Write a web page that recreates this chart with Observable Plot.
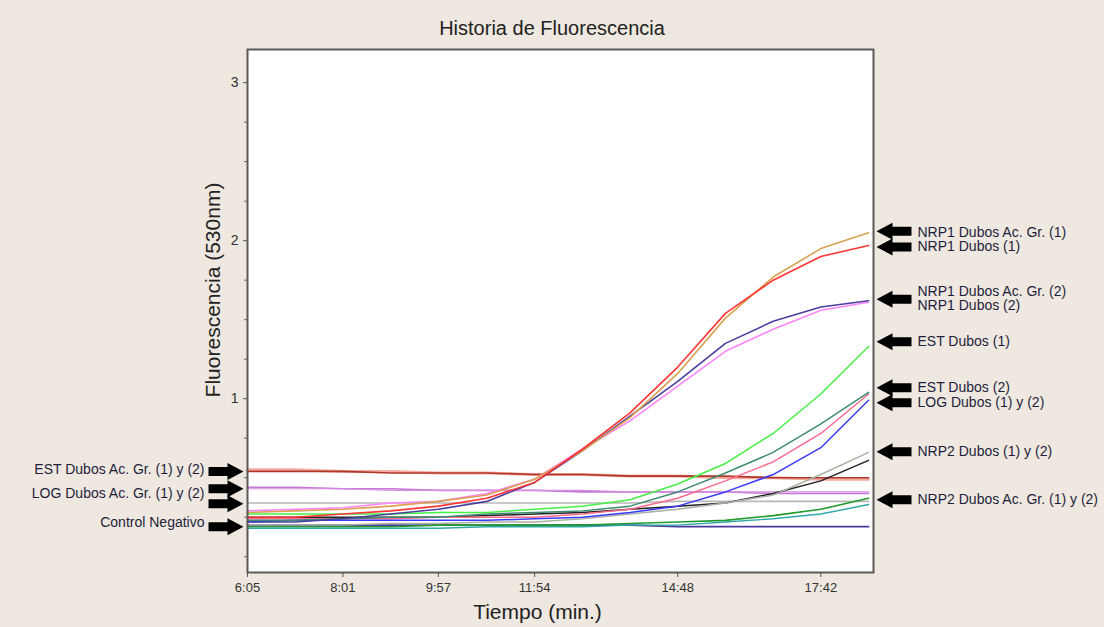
<!DOCTYPE html>
<html><head><meta charset="utf-8">
<script src="https://cdn.jsdelivr.net/npm/d3@7"></script>
<script src="https://cdn.jsdelivr.net/npm/@observablehq/plot@0.6"></script>
<style>
body{margin:0;background:#EEE8E0;}
#wrap{position:relative;width:1104px;height:627px;background:#EEE8E0;font-family:"Liberation Sans",Arial,sans-serif;overflow:hidden;}
#chart{position:absolute;left:0;top:0;}
#title{position:absolute;left:0;top:17px;width:1104px;text-align:center;font-size:20px;line-height:22px;color:#222;}
</style></head><body>
<div id="wrap"><div id="chart"></div><div id="title">Historia de Fluorescencia</div></div>
<script>
// cycle times in seconds (x)
const times = [365, 423, 481, 539, 597, 656, 714, 772, 830, 888, 946, 1004, 1062, 1120];
const xTickValues = [365, 481, 597, 714, 888, 1062];
const xTickLabels = ["6:05", "8:01", "9:57", "11:54", "14:48", "17:42"];
const yMajorTicks = [1, 2, 3];
const yMinorTicks = [0, 0.25, 0.5, 0.75, 1.25, 1.5, 1.75, 2.25, 2.5, 2.75];

// series values (fluorescence 530nm)
const estAcGr1 = [0.55,0.55,0.54,0.54,0.53,0.53,0.52,0.52,0.51,0.51,0.50,0.50,0.49,0.49];
const estAcGr2 = [0.54,0.54,0.54,0.53,0.53,0.53,0.52,0.52,0.51,0.51,0.51,0.50,0.50,0.50];
const logAcGr1 = [0.44,0.44,0.43,0.43,0.42,0.42,0.42,0.41,0.41,0.41,0.41,0.40,0.40,0.40];
const logAcGr2 = [0.43,0.43,0.43,0.42,0.42,0.42,0.42,0.42,0.41,0.41,0.41,0.41,0.41,0.41];
const grayRef  = [0.34,0.34,0.34,0.34,0.34,0.34,0.34,0.34,0.34,0.35,0.35,0.35,0.35,0.35];
const control  = [0.20,0.20,0.20,0.20,0.20,0.20,0.20,0.20,0.20,0.19,0.19,0.19,0.19,0.19];
const nrp2AcGr1 = [0.19,0.19,0.19,0.19,0.20,0.20,0.20,0.20,0.21,0.22,0.23,0.26,0.30,0.37];
const nrp2AcGr2 = [0.18,0.18,0.18,0.18,0.18,0.19,0.19,0.19,0.20,0.20,0.22,0.24,0.27,0.33];
const nrp2Dubos1 = [0.25,0.25,0.25,0.25,0.25,0.26,0.27,0.28,0.30,0.32,0.34,0.40,0.48,0.61];
const nrp2Dubos2 = [0.20,0.20,0.20,0.21,0.21,0.22,0.22,0.24,0.27,0.30,0.34,0.39,0.52,0.66];
const logDubos1 = [0.24,0.24,0.24,0.24,0.25,0.25,0.25,0.27,0.30,0.37,0.48,0.60,0.78,1.03];
const logDubos2 = [0.22,0.23,0.23,0.23,0.23,0.23,0.24,0.25,0.28,0.32,0.41,0.52,0.69,0.99];
const estDubos2 = [0.23,0.23,0.24,0.25,0.25,0.27,0.28,0.29,0.32,0.41,0.53,0.66,0.84,1.04];
const estDubos1 = [0.27,0.27,0.27,0.27,0.28,0.28,0.30,0.32,0.36,0.46,0.59,0.78,1.03,1.33];
const nrp1Dubos2 = [0.29,0.30,0.31,0.34,0.35,0.40,0.49,0.68,0.86,1.08,1.30,1.44,1.56,1.61];
const nrp1AcGr2 = [0.22,0.22,0.24,0.27,0.30,0.35,0.47,0.67,0.89,1.11,1.35,1.49,1.58,1.62];
const nrp1AcGr1 = [0.28,0.29,0.30,0.32,0.35,0.39,0.49,0.67,0.88,1.16,1.51,1.77,1.95,2.05];
const nrp1Dubos1 = [0.25,0.25,0.27,0.29,0.32,0.37,0.47,0.68,0.91,1.20,1.54,1.75,1.90,1.97];

const seriesList = [
  {name: "EST Dubos Ac. Gr. (1)", values: estAcGr1, color: "#F4ABA2", width: 3},
  {name: "EST Dubos Ac. Gr. (2)", values: estAcGr2, color: "#B0382A", width: 1.6},
  {name: "LOG Dubos Ac. Gr. (1)", values: logAcGr1, color: "#C47AD4", width: 1.6},
  {name: "LOG Dubos Ac. Gr. (2)", values: logAcGr2, color: "#D58EE0", width: 1.2},
  {name: "Referencia", values: grayRef, color: "#B8B8B8", width: 1.6},
  {name: "Control Negativo", values: control, color: "#4A3AA0", width: 1.8},
  {name: "NRP2 Dubos Ac. Gr. (1)", values: nrp2AcGr1, color: "#229A2E", width: 1.6},
  {name: "NRP2 Dubos Ac. Gr. (2)", values: nrp2AcGr2, color: "#2FA8A8", width: 1.4},
  {name: "NRP2 Dubos (1)", values: nrp2Dubos1, color: "#222222", width: 1.5},
  {name: "NRP2 Dubos (2)", values: nrp2Dubos2, color: "#A9B2A2", width: 1.5},
  {name: "LOG Dubos (1)", values: logDubos1, color: "#FF6A8C", width: 1.5},
  {name: "LOG Dubos (2)", values: logDubos2, color: "#3A3AFF", width: 1.5},
  {name: "EST Dubos (2)", values: estDubos2, color: "#3F8A72", width: 1.5},
  {name: "EST Dubos (1)", values: estDubos1, color: "#44F044", width: 1.5},
  {name: "NRP1 Dubos (2)", values: nrp1Dubos2, color: "#FF84FF", width: 1.6},
  {name: "NRP1 Dubos Ac. Gr. (2)", values: nrp1AcGr2, color: "#4B3F9E", width: 1.6},
  {name: "NRP1 Dubos Ac. Gr. (1)", values: nrp1AcGr1, color: "#D9A052", width: 1.6},
  {name: "NRP1 Dubos (1)", values: nrp1Dubos1, color: "#FF3434", width: 1.6}
];

// annotations
const rightLabels = ["NRP1 Dubos Ac. Gr. (1)", "NRP1 Dubos (1)", "NRP1 Dubos Ac. Gr. (2)", "NRP1 Dubos (2)", "EST Dubos (1)", "EST Dubos (2)", "LOG Dubos (1) y (2)", "NRP2 Dubos (1) y (2)", "NRP2 Dubos Ac. Gr. (1) y (2)"];
const rightLabelY = [2.05, 1.96, 1.68, 1.59, 1.36, 1.07, 0.975, 0.665, 0.36];
const rightArrowY = [2.06, 1.96, 1.63, 1.36, 1.07, 0.975, 0.665, 0.36];
const leftLabels = ["EST Dubos Ac. Gr. (1) y (2)", "LOG Dubos Ac. Gr. (1) y (2)", "Control Negativo"];
const leftLabelY = [0.55, 0.40, 0.215];
const leftArrowY = [0.54, 0.43, 0.335, 0.19];

const blockArrow = {
  draw(context, l) {
    const head = 16, shaft = 4.5, wing = 8.5;
    context.moveTo(-shaft, 0);
    context.lineTo(-shaft, -(l - head));
    context.lineTo(-wing, -(l - head));
    context.lineTo(0, -l);
    context.lineTo(wing, -(l - head));
    context.lineTo(shaft, -(l - head));
    context.lineTo(shaft, 0);
    context.closePath();
  }
};

const lineMarks = seriesList.map(s =>
  Plot.line(s.values.map((v, i) => ({t: times[i], v})), {x: "t", y: "v", stroke: s.color, strokeWidth: s.width, curve: "linear"})
);

const chart = Plot.plot({
  width: 1104, height: 627,
  marginLeft: 247, marginRight: 231, marginTop: 49, marginBottom: 55,
  style: {background: "transparent", fontFamily: "'Liberation Sans', Arial, sans-serif", color: "#333"},
  x: {domain: [365, 1126], label: null},
  y: {domain: [-0.1, 3.21], label: null},
  marks: [
    Plot.frame({fill: "white", stroke: "none"}),
    ...lineMarks,
    Plot.frame({stroke: "#5a5a5a", strokeWidth: 2}),
    Plot.axisY({ticks: yMinorTicks, tickSize: 3, tickFormat: () => "", label: null, stroke: "#666"}),
    Plot.axisY({ticks: yMajorTicks, tickSize: 4, tickFormat: () => "", label: null, stroke: "#555"}),
    Plot.axisX({ticks: xTickValues, tickSize: 5, tickFormat: () => "", label: null, stroke: "#555"}),
    Plot.text(yMajorTicks, {y: d => d, text: d => String(d), frameAnchor: "left", dx: -9, textAnchor: "end", lineAnchor: "middle", fontSize: 14, fill: "#333"}),
    Plot.text(xTickValues, {x: d => d, text: (d, i) => xTickLabels[i], frameAnchor: "bottom", dy: 15, textAnchor: "middle", lineAnchor: "middle", fontSize: 13, fill: "#333"}),
    Plot.text(["Fluorescencia (530nm)"], {frameAnchor: "left", dx: -34, dy: -21, rotate: -90, textAnchor: "middle", lineAnchor: "middle", fontSize: 21, fill: "#222"}),
    Plot.text(["Tiempo (min.)"], {frameAnchor: "bottom", dx: -23, dy: 40, textAnchor: "middle", lineAnchor: "middle", fontSize: 21, fill: "#222"}),
    Plot.vector(rightArrowY, {y: d => d, frameAnchor: "right", dx: 3, rotate: -90, length: 35, anchor: "end", shape: blockArrow, fill: "black", stroke: "none"}),
    Plot.vector(leftArrowY, {y: d => d, frameAnchor: "left", dx: -4, rotate: 90, length: 35, anchor: "end", shape: blockArrow, fill: "black", stroke: "none"}),
    Plot.text(rightLabels, {y: rightLabelY, text: d => d, frameAnchor: "right", dx: 44, textAnchor: "start", fontSize: 14, fill: "#1E1E3C"}),
    Plot.text(leftLabels, {y: leftLabelY, text: d => d, frameAnchor: "left", dx: -43, textAnchor: "end", fontSize: 14, fill: "#1E1E3C"})
  ]
});
document.getElementById("chart").appendChild(chart);
</script>
</body></html>
